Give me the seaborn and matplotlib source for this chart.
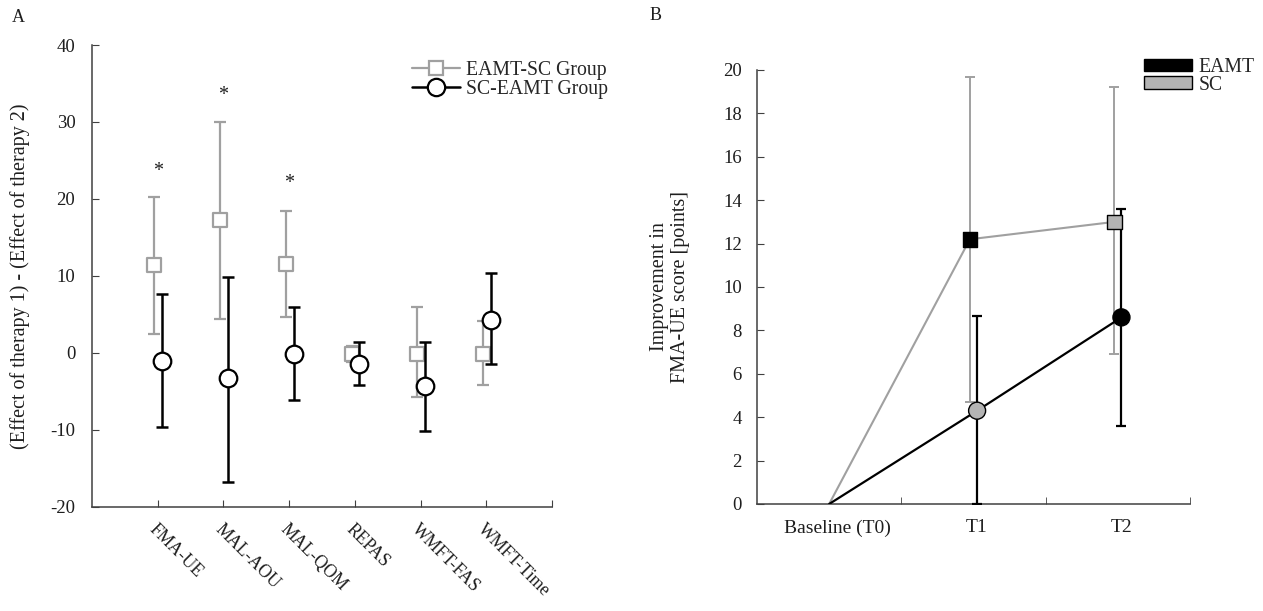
import numpy as np
import pandas as pd
import matplotlib
matplotlib.use("Agg")
import matplotlib.pyplot as plt
import matplotlib.transforms as mtransforms
import seaborn as sns
from matplotlib.lines import Line2D
from matplotlib.patches import Patch

# ---------------- Panel A data ----------------
measures = ["FMA-UE", "MAL-AOU", "MAL-QOM", "REPAS", "WMFT-FAS", "WMFT-Time"]
eamt_sc_mean = [11.4, 17.2, 11.6, -0.2, -0.1, -0.1]
eamt_sc_low = [2.5, 4.4, 4.7, -1.2, -5.8, -4.2]
eamt_sc_high = [20.3, 30.0, 18.4, 0.9, 5.9, 4.1]
sc_eamt_mean = [-1.1, -3.3, -0.1, -1.4, -4.3, 4.3]
sc_eamt_low = [-9.6, -16.8, -6.1, -4.2, -10.1, -1.5]
sc_eamt_high = [7.7, 9.9, 5.9, 1.4, 1.4, 10.4]
star_measures = ["FMA-UE", "MAL-AOU", "MAL-QOM"]
star_heights = [23.6, 33.4, 22.0]

# ---------------- Panel B data ----------------
timepoints = ["Baseline (T0)", "T1", "T2"]
g1_mean = [0.0, 12.2, 13.0]      # EAMT-SC group (grey line)
g1_low = [0.0, 4.7, 6.9]
g1_high = [0.0, 19.7, 19.2]
g1_therapy = ["", "EAMT", "SC"]
g2_mean = [0.0, 4.3, 8.6]        # SC-EAMT group (black line)
g2_low = [0.0, 0.0, 3.6]
g2_high = [0.0, 8.65, 13.6]
g2_therapy = ["", "SC", "EAMT"]

# ---------------- style ----------------
sns.set_style("ticks")
plt.rcParams["font.family"] = ["Liberation Serif", "DejaVu Serif"]
plt.rcParams["axes.unicode_minus"] = False
GRAY = "#a0a0a0"
SCFILL = "#b4b4b4"
SPINE = "#404040"
TXT = "#1e1e1e"

fig = plt.figure(figsize=(12.63, 6.11), dpi=100)
axA = fig.add_axes([92 / 1263, 1 - 506.7 / 611, 460 / 1263, 461.7 / 611])
axB = fig.add_axes([757 / 1263, 1 - 504 / 611, 433 / 1263, 434 / 611])

# ---------------- Panel A ----------------
xA = np.arange(1, len(measures) + 1)
offA = {"sq": -0.05, "ci": 0.07}
m1 = np.array(eamt_sc_mean); l1 = np.array(eamt_sc_low); h1 = np.array(eamt_sc_high)
m2 = np.array(sc_eamt_mean); l2 = np.array(sc_eamt_low); h2 = np.array(sc_eamt_high)

axA.errorbar(xA + offA["sq"], m1, yerr=[m1 - l1, h1 - m1], fmt="none",
             ecolor=GRAY, elinewidth=1.6, capsize=4.5, capthick=1.6, zorder=2)
sns.scatterplot(x=xA + offA["sq"], y=m1, marker="s", s=100, color="white",
                edgecolor=GRAY, linewidth=1.6, ax=axA, zorder=3)
axA.errorbar(xA + offA["ci"], m2, yerr=[m2 - l2, h2 - m2], fmt="none",
             ecolor="black", elinewidth=1.8, capsize=4.5, capthick=1.8, zorder=4)
sns.scatterplot(x=xA + offA["ci"], y=m2, marker="o", s=160, color="white",
                edgecolor="black", linewidth=1.6, ax=axA, zorder=5)

for name, hgt in zip(star_measures, star_heights):
    xi = measures.index(name) + 1
    axA.text(xi, hgt, "*", ha="center", va="center", fontsize=14.5, color=TXT)

axA.set_xlim(0, 7)
axA.set_ylim(-20, 40)
axA.set_yticks(np.arange(-20, 41, 10))
axA.set_xticks(list(xA) + [7])
axA.set_xticklabels(measures + [""], rotation=-45, ha="left", va="top",
                    rotation_mode="anchor", fontsize=12.8)
axA.tick_params(axis="x", direction="in", length=5, pad=10, color=SPINE, labelcolor=TXT)
axA.tick_params(axis="y", direction="in", length=5, pad=12, color=SPINE, labelcolor=TXT,
                labelsize=13.5)
for s in ["top", "right"]:
    axA.spines[s].set_visible(False)
for s in ["left", "bottom"]:
    axA.spines[s].set_color(SPINE)
    axA.spines[s].set_linewidth(1.1)
axA.set_ylabel("(Effect of therapy 1) - (Effect of therapy 2)", fontsize=14.5, color=TXT)
axA.yaxis.set_label_coords(-0.135, 0.5)

legA = [
    Line2D([0], [0], color=GRAY, lw=1.6, marker="s", markersize=10,
           markerfacecolor="white", markeredgecolor=GRAY, markeredgewidth=1.6),
    Line2D([0], [0], color="black", lw=1.8, marker="o", markersize=12.5,
           markerfacecolor="white", markeredgecolor="black", markeredgewidth=1.6),
]
fig.legend(legA, ["EAMT-SC Group", "SC-EAMT Group"], loc="upper left",
           bbox_to_anchor=(412 / 1263, 1 - 61 / 611), frameon=False, fontsize=14.2,
           handlelength=2.45, handletextpad=0.3, labelspacing=0.0, borderpad=0,
           borderaxespad=0)

fig.text(18 / 1263, 1 - 17.5 / 611, "A", ha="center", va="center", fontsize=13, color=TXT)
fig.text(656 / 1263, 1 - 15.5 / 611, "B", ha="center", va="center", fontsize=13, color=TXT)

# ---------------- Panel B ----------------
xB = np.arange(len(timepoints), dtype=float)
offB = np.array([0.0, -0.025, -0.025])
offB2 = np.array([0.0, 0.025, 0.025])
gm1 = np.array(g1_mean); gl1 = np.array(g1_low); gh1 = np.array(g1_high)
gm2 = np.array(g2_mean); gl2 = np.array(g2_low); gh2 = np.array(g2_high)

sns.lineplot(x=xB + offB, y=gm1, color=GRAY, lw=1.5, sort=False, ax=axB, zorder=2)
axB.errorbar((xB + offB)[1:], gm1[1:], yerr=[(gm1 - gl1)[1:], (gh1 - gm1)[1:]], fmt="none",
             ecolor=GRAY, elinewidth=1.4, capsize=3.5, capthick=1.4, zorder=2)
sns.lineplot(x=xB + offB2, y=gm2, color="black", lw=1.6, sort=False, ax=axB, zorder=3)
axB.errorbar((xB + offB2)[1:], gm2[1:], yerr=[(gm2 - gl2)[1:], (gh2 - gm2)[1:]], fmt="none",
             ecolor="black", elinewidth=1.6, capsize=3.5, capthick=1.6, zorder=3)

pts = pd.DataFrame({
    "x": list((xB + offB)[1:]) + list((xB + offB2)[1:]),
    "y": list(gm1[1:]) + list(gm2[1:]),
    "therapy": g1_therapy[1:] + g2_therapy[1:],
    "group": ["EAMT-SC"] * 2 + ["SC-EAMT"] * 2,
})
sns.scatterplot(data=pts, x="x", y="y", hue="therapy", style="group", size="group",
                palette={"EAMT": "black", "SC": SCFILL},
                markers={"EAMT-SC": "s", "SC-EAMT": "o"},
                sizes={"EAMT-SC": 110, "SC-EAMT": 150},
                edgecolor="black", linewidth=1.0, legend=False, ax=axB, zorder=5)

axB.set_xlim(-0.5, 2.5)
axB.set_ylim(0, 20)
axB.set_yticks(np.arange(0, 21, 2))
axB.set_xticks(xB)
axB.set_xticklabels(timepoints, fontsize=14)
axB.set_xticks([0.5, 1.5, 2.0, 2.5], minor=True)
axB.tick_params(axis="x", which="major", length=0, pad=11, labelcolor=TXT)
axB.tick_params(axis="x", which="minor", direction="in", length=5, color=SPINE)
axB.tick_params(axis="y", direction="in", length=5, pad=11, color=SPINE, labelcolor=TXT,
                labelsize=13.5)
for lab, dx in zip(axB.get_xticklabels(), [8, 3, 4]):
    lab.set_transform(lab.get_transform() +
                      mtransforms.ScaledTranslation(dx / 100, 0, fig.dpi_scale_trans))
for s in ["top", "right"]:
    axB.spines[s].set_visible(False)
for s in ["left", "bottom"]:
    axB.spines[s].set_color(SPINE)
    axB.spines[s].set_linewidth(1.1)
axB.set_xlabel("")
axB.set_ylabel("Improvement in\nFMA-UE score [points]", fontsize=14.5, color=TXT,
               linespacing=1.1)
axB.yaxis.set_label_coords(-0.155, 0.5)

legB = [Patch(facecolor="black", edgecolor="black", lw=1.0),
        Patch(facecolor=SCFILL, edgecolor="black", lw=1.0)]
fig.legend(legB, ["EAMT", "SC"], loc="upper left",
           bbox_to_anchor=(1144 / 1263, 1 - 58 / 611), frameon=False, fontsize=14.2,
           handlelength=2.45, handleheight=0.62, handletextpad=0.3, labelspacing=-0.07,
           borderpad=0, borderaxespad=0)

fig.savefig("out.png", dpi=100)
